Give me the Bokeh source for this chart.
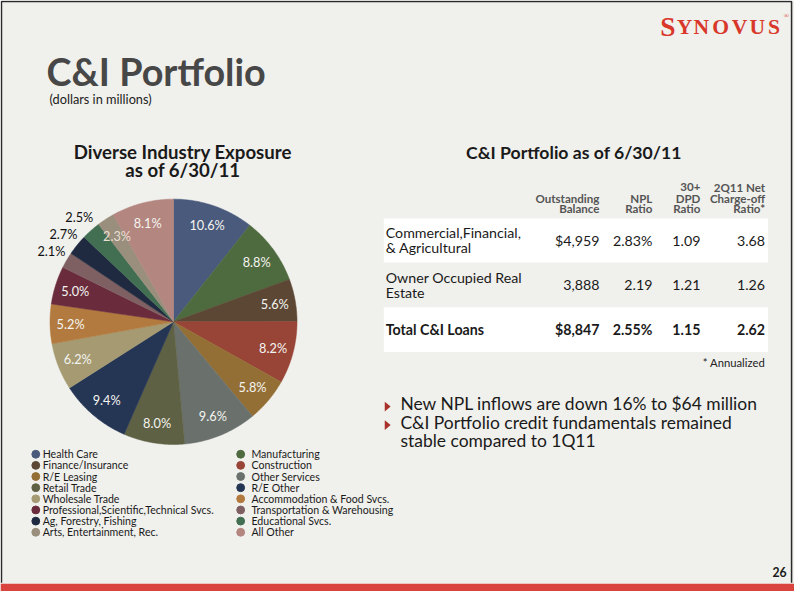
import math
from bokeh.plotting import figure
from bokeh.models import Range1d
from bokeh.core.properties import value
from bokeh.embed import file_html
from bokeh.resources import INLINE

# ---------------- data ----------------
industries = ["Health Care", "Manufacturing", "Finance/Insurance", "Construction",
              "R/E Leasing", "Other Services", "Retail Trade", "R/E Other",
              "Wholesale Trade", "Accommodation & Food Svcs.",
              "Professional,Scientific,Technical Svcs.", "Transportation & Warehousing",
              "Ag, Forestry, Fishing", "Educational Svcs.", "Arts, Entertainment, Rec.",
              "All Other"]
shares = [10.6, 8.8, 5.6, 8.2, 5.8, 9.6, 8.0, 9.4, 6.2, 5.2, 5.0, 2.1, 2.7, 2.5, 2.3, 8.1]
share_labels = ["10.6%", "8.8%", "5.6%", "8.2%", "5.8%", "9.6%", "8.0%", "9.4%",
                "6.2%", "5.2%", "5.0%", "2.1%", "2.7%", "2.5%", "2.3%", "8.1%"]
slice_colors = ["#4a5a7c", "#4e6b3f", "#5c4735", "#984437", "#946f35", "#6a716d",
                "#5e6144", "#253554", "#a59a72", "#b27a3e", "#6a2c3c", "#7f6062",
                "#1f2a40", "#426e52", "#9a8e7c", "#b38680"]
label_outside = [False] * 11 + [True, True, True, False, False]

row_line1 = ["Commercial,Financial,", "Owner Occupied Real", "Total C&I Loans"]
row_line2 = ["& Agricultural", "Estate", ""]
outstanding = ["$4,959", "3,888", "$8,847"]
npl_ratio = ["2.83%", "2.19", "2.55%"]
dpd_ratio = ["1.09", "1.21", "1.15"]
nco_ratio = ["3.68", "1.26", "2.62"]
header_top = ["", "", "30+", "2Q11 Net"]
header_mid = ["Outstanding", "NPL", "DPD", "Charge-off"]
header_bot = ["Balance", "Ratio", "Ratio", "Ratio*"]

bullets = ["New NPL inflows are down 16% to $64 million",
           "C&I Portfolio credit fundamentals remained",
           "stable compared to 1Q11"]

# ---------------- figure ----------------
W, H = 794, 591
SC = W / 810.0


def fs(n):
    return f"{n * SC:.2f}px"


BG = "#f0f0ec"
p = figure(width=W, height=H, x_range=Range1d(0, 810), y_range=Range1d(607, 0),
           output_backend="svg", toolbar_location=None, min_border=0)
p.axis.visible = False
p.grid.visible = False
p.outline_line_color = None
p.background_fill_color = BG
p.border_fill_color = BG

HEAD = value("Lato")
BODY = value("Lato")
INK = "#1a1a1a"

# slide frame and footer bar
p.line(x=[1, 1, 807, 807], y=[598, 1, 1, 598], line_color="#2a2a2a", line_width=1.5)
p.quad(left=[0], right=[810], top=[599], bottom=[607], fill_color="#d9453e", line_color=None)

# logo
logo_letters = ["S", "Y", "N", "O", "V", "U", "S"]
logo_sizes = [28, 22, 22, 22, 22, 22, 22]
logo_x = [673, 690, 707, 726, 746, 764, 783]
for ch, sz, xx in zip(logo_letters, logo_sizes, logo_x):
    p.text(x=[xx], y=[27], text=[ch], text_font=value("Liberation Serif"),
           text_font_style="bold", text_font_size=fs(sz), text_color="#d8372a",
           text_baseline="alphabetic")
p.text(x=[799], y=[15], text=["®"], text_font=value("Liberation Serif"),
       text_font_size=fs(7), text_color="#d8372a", text_baseline="alphabetic")

# titles
p.text(x=[47], y=[73], text=["C&I Portfolio"], text_font=HEAD, text_font_style="bold",
       text_font_size=fs(38.5), text_color="#474747", text_baseline="middle")
p.text(x=[50], y=[101], text=["(dollars in millions)"], text_font=BODY,
       text_font_size=fs(13), text_color="#222222", text_baseline="middle")

p.text(x=[186, 186], y=[156, 174], text=["Diverse Industry Exposure", "as of 6/30/11"],
       text_font=HEAD, text_font_style="bold", text_font_size=fs(19),
       text_color=INK, text_align="center", text_baseline="middle")

# ---------------- pie ----------------
cx, cy, R = 176.5, 330.0, 126.0
total = sum(shares)
xs, ys, lx, ly, lcol = [], [], [], [], []
acc = 0.0
for i, s in enumerate(shares):
    a0 = acc / total * 2 * math.pi
    acc += s
    a1 = acc / total * 2 * math.pi
    n = max(4, int((a1 - a0) / 0.01))
    px = [cx]
    py = [cy]
    for k in range(n + 1):
        a = a0 + (a1 - a0) * k / n
        px.append(cx + R * math.sin(a))
        py.append(cy - R * math.cos(a))
    xs.append(px)
    ys.append(py)
    am = (a0 + a1) / 2
    rl = 144 if label_outside[i] else 105
    lx.append(cx + rl * math.sin(am))
    ly.append(cy - rl * math.cos(am))
    if label_outside[i]:
        lcol.append("#111111")
    elif i == 14:
        lcol.append("#e6dfd2")
    else:
        lcol.append("#f4f4f0")

p.patches(xs=xs, ys=ys, fill_color=slice_colors, line_color=slice_colors, line_width=0.5)
p.text(x=lx, y=ly, text=share_labels, text_color=lcol, text_font=BODY,
       text_font_size=fs(13), text_align="center", text_baseline="middle")

# ---------------- legend ----------------
leg_x, leg_y, leg_c, leg_tx = [], [], [], []
for i, name in enumerate(industries):
    row, col = i // 2, i % 2
    yy = 466 + row * 11.45
    dx = 36 if col == 0 else 245
    leg_x.append(dx)
    leg_y.append(yy)
    leg_c.append(slice_colors[i])
    leg_tx.append(dx + 7 if col == 0 else dx + 11)
p.scatter(x=leg_x, y=leg_y, size=8 * SC, fill_color=leg_c, line_color=leg_c)
p.text(x=leg_tx, y=leg_y, text=industries, text_font=BODY,
       text_font_size=fs(10.8), text_color=INK, text_baseline="middle")

# ---------------- table ----------------
p.text(x=[585], y=[156], text=["C&I Portfolio as of 6/30/11"], text_font=HEAD,
       text_font_style="bold", text_font_size=fs(18), text_color=INK,
       text_align="center", text_baseline="middle")

col_right = [611, 665, 714, 780]
hdr = dict(text_font=BODY, text_font_style="bold", text_font_size=fs(11.8),
           text_color="#555555", text_align="right", text_baseline="middle")
p.text(x=col_right, y=[192] * 4, text=header_top, **hdr)
p.text(x=col_right, y=[203] * 4, text=header_mid, **hdr)
p.text(x=col_right, y=[214] * 4, text=header_bot, **hdr)

row_top = [224, 270, 315]
row_bot = [269, 315, 361]
white_rows = [0, 2]
p.quad(left=[391] * 2, right=[783] * 2, top=[row_top[i] for i in white_rows],
       bottom=[row_bot[i] for i in white_rows], fill_color="white", line_color=None)

for r in range(3):
    mid = (row_top[r] + row_bot[r]) / 2
    bold = "bold" if r == 2 else "normal"
    if row_line2[r]:
        p.text(x=[393, 393], y=[mid - 8, mid + 7], text=[row_line1[r], row_line2[r]],
               text_font=BODY, text_font_style=bold, text_font_size=fs(14.5),
               text_color=INK, text_baseline="middle")
    else:
        p.text(x=[393], y=[mid], text=[row_line1[r]], text_font=BODY,
               text_font_style=bold, text_font_size=fs(14.5), text_color=INK,
               text_baseline="middle")
    vals = [outstanding[r], npl_ratio[r], dpd_ratio[r], nco_ratio[r]]
    p.text(x=col_right, y=[mid] * 4, text=vals, text_font=BODY, text_font_style=bold,
           text_font_size=fs(14.5), text_color=INK, text_align="right",
           text_baseline="middle")

p.text(x=[780], y=[372], text=["* Annualized"], text_font=BODY, text_font_size=fs(11.5),
       text_color="#222222", text_align="right", text_baseline="middle")

# ---------------- bullets ----------------
b_y = [414, 433, 452]
p.text(x=[408] * 3, y=b_y, text=bullets, text_font=BODY, text_font_size=fs(17.8),
       text_color=INK, text_baseline="middle")
tri_x, tri_y = [], []
for k in (0, 1):
    tri_x.append([392, 392, 398])
    tri_y.append([b_y[k] - 2, b_y[k] + 8, b_y[k] + 3])
p.patches(xs=tri_x, ys=tri_y, fill_color="#a8322a", line_color=None)

# page number
p.text(x=[802], y=[587], text=["26"], text_font=BODY, text_font_style="bold",
       text_font_size=fs(12.5), text_color=INK, text_align="right",
       text_baseline="middle")

open("out.html", "w").write(file_html(p, INLINE))
